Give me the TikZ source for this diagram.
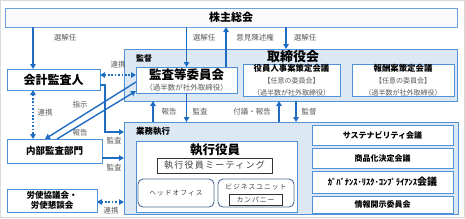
\documentclass[tikz,border=0pt]{standalone}
\usepackage{fontspec}
\setmainfont{Noto Sans CJK JP}
\newfontfamily\jpspaced[LetterSpace=14]{Noto Sans CJK JP}
\usetikzlibrary{positioning,arrows.meta,calc}
\definecolor{arrowblue}{HTML}{1F6DC2}
\definecolor{boxline}{HTML}{4F92D8}
\definecolor{framefill}{HTML}{DDE8F5}
\definecolor{lblgray}{HTML}{595959}
\definecolor{slate}{HTML}{4F6E91}
\newcommand{\fsz}[1]{\fontsize{#1}{#1}\selectfont}
\newcommand{\subtxt}[1]{{\fontsize{7}{9}\selectfont\mdseries\color{lblgray}#1}}

\begin{document}
\begin{tikzpicture}[x=1pt, y=-1pt,
    box/.style={draw=boxline, line width=0.9pt, fill=white, align=center,
                inner sep=0pt, outer sep=0pt},
    frame/.style={draw=boxline, line width=0.9pt, fill=framefill,
                  inner sep=0pt, outer sep=0pt},
    soft/.style={draw=slate, line width=0.9pt, fill=white, rounded corners=5pt,
                 inner sep=0pt, outer sep=0pt, align=center},
    plain/.style={draw=black!80, line width=0.8pt, fill=white, inner sep=0pt,
                  outer sep=0pt},
    lbl/.style={font=\fsz{7.5}, text=lblgray, inner sep=0pt},
    arr/.style={arrowblue, line width=1.4pt, -{Triangle[length=5pt,width=5.5pt]}},
    link/.style={arrowblue, line width=1.6pt, dash pattern=on 1.6pt off 1.8pt,
                 {Triangle[length=5pt,width=5.5pt]}-{Triangle[length=5pt,width=5.5pt]}},
]
\useasboundingbox (0,0) rectangle (465,218);
\draw[black!15, line width=0.8pt] (0.4,0.4) rectangle (464.6,217.6);

% Shareholders' meeting
\node[box, fill=black!2, draw=boxline!85, minimum width=452pt, minimum height=19pt,
      font=\fsz{11}\bfseries] (soukai) at (231,17.5) {株主総会};

% Left column
\node[box, minimum width=93pt, minimum height=21pt, font=\fsz{12}\bfseries]
      (kansa) at (53.5,79.5) {会計監査人};
\node[box, minimum width=95pt, minimum height=24pt, font=\fsz{9.5}\bfseries]
      (naibu) at (54.5,151) {内部監査部門};
\node[box, minimum width=90pt, minimum height=23pt, font=\fontsize{8.5}{10.5}\selectfont\bfseries]
      (roushi) at (52,200.5) {労使協議会・\\労使懇談会};

% --- Board of directors ---
\node[frame, minimum width=333pt, minimum height=52pt] (kantoku) at (290.5,75) {};
\node[font=\fsz{8}\bfseries, anchor=west, inner sep=0pt] (kantokulbl) at (136,58) {監督};
\node[font=\fsz{13}\bfseries, inner sep=0pt] (torishimari) at (293,57) {取締役会};

\node[box, minimum width=101pt, minimum height=26pt] (iinkai) at (186.5,80)
      {{\fontsize{12.5}{13}\selectfont\bfseries 監査等委員会}\\[-0.5pt]
       {\fontsize{7.5}{9}\selectfont\color{lblgray}（過半数が社外取締役）}};
\node[box, minimum width=97pt, minimum height=26pt] (jinji) at (291.5,80)
      {{\fontsize{8.4}{9}\selectfont\bfseries 役員人事案策定会議}\\
       \subtxt{【任意の委員会】}\\ \subtxt{（過半数が社外取締役）}};
\node[box, minimum width=102pt, minimum height=26pt] (houshu) at (403,80)
      {{\fontsize{8.4}{9}\selectfont\bfseries 報酬案策定会議}\\
       \subtxt{【任意の委員会】}\\ \subtxt{（過半数が社外取締役）}};

% --- Business execution ---
\node[frame, minimum width=334pt, minimum height=92pt] (gyomu) at (291,168) {};
\node[font=\fsz{8.5}\bfseries, anchor=west, inner sep=0pt] (gyomulbl) at (136,131) {業務執行};

\node[box, minimum width=161pt, minimum height=71pt] (shikko) at (216.5,176.5) {};
\node[font=\fsz{12.5}\bfseries, inner sep=0pt] (shikkolbl) at (215,150) {執行役員};
\node[plain, minimum width=115pt, minimum height=15pt, text=black!75,
      font=\jpspaced\fsz{9}] (meeting) at (214.5,165.5) {執行役員ミーティング};
\node[soft, minimum width=76pt, minimum height=28pt, text=black!75,
      font=\jpspaced\fsz{6.8}] (head) at (176,193) {ヘッドオフィス};
\node[soft, minimum width=76pt, minimum height=28pt] (unit) at (256,193) {};
\node[font=\jpspaced\fsz{6.8}, text=black!75, inner sep=0pt] (unitlbl) at (256,187) {ビジネスユニット};
\node[plain, minimum width=53pt, minimum height=11pt, text=black!75,
      font=\jpspaced\fsz{6.8}] (company) at (255.5,199.5) {カンパニー};

% Meetings on the right
\node[box, minimum width=141pt, minimum height=20pt, font=\fsz{8}\bfseries]
      (sus) at (382.5,135) {サステナビリティ会議};
\node[box, minimum width=141pt, minimum height=20pt, font=\fsz{8}\bfseries]
      (shohin) at (382.5,158) {商品化決定会議};
\node[box, minimum width=141pt, minimum height=22pt, font=\fsz{8.5}\bfseries]
      (gov) at (382.5,182) {ｶﾞﾊﾞﾅﾝｽ･ﾘｽｸ･ｺﾝﾌﾟﾗｲｱﾝｽ\fsz{10}会議};
\node[box, minimum width=141pt, minimum height=17pt, font=\fsz{8}\bfseries]
      (joho) at (382.5,204.5) {情報開示委員会};

% --- Connectors ---
\draw[arr] (soukai.south -| 33,0) -- (kansa.north -| 33,0);
\node[lbl] (sen1) at (65,38) {選解任};
\draw[arr] (soukai.south -| iinkai.north) -- (iinkai.north);
\node[lbl] (sen2) at (204,38) {選解任};
\draw[arr] (iinkai.north -| 226,0) -- (soukai.south -| 226,0);
\node[lbl] (iken) at (255,38) {意見陳述権};
\draw[arr] (soukai.south -| 286,0) -- (kantoku.north -| 286,0);
\node[lbl] (sen3) at (305,38) {選解任};

\draw[link] (kansa.east |- 0,75) -- (iinkai.west |- 0,75);
\node[lbl] (ren1) at (118,65) {連携};
\draw[arr] (kansa.east |- 0,85) -| (105,132) -- (gyomu.west |- 0,132);
\node[lbl] (kan1) at (114,141) {監査};
\draw[link] (kansa.south -| 33,0) -- (naibu.north -| 33,0);
\node[lbl] (ren2) at (45,113) {連携};

\draw[arr] (iinkai.west |- 0,82) -- (naibu.north -| 45,0);
\node[lbl] (shiji) at (80,105) {指示};
\draw[arr] (naibu.north -| 57,0) -- (iinkai.west |- 0,91);
\node[lbl] (hou1) at (80,133) {報告};

\draw[arr] (naibu.east |- 0,158) -- (gyomu.west |- 0,158);
\node[lbl] (kan2) at (114,168) {監査};
\draw[link] (roushi.east |- 0,202) -- (gyomu.west |- 0,202);
\node[lbl] (ren3) at (111,211) {連携};

\draw[arr] (gyomu.north -| 153,0) -- (kantoku.south -| 153,0);
\node[lbl] (hou2) at (169,112) {報告};
\draw[arr] (iinkai.south) -- (gyomu.north -| iinkai.south);
\node[lbl] (kan3) at (200,112) {監査};
\draw[arr] (gyomu.north -| 279,0) -- (kantoku.south -| 279,0);
\node[lbl] (fugi) at (252,112) {付議・報告};
\draw[arr] (kantoku.south -| 296,0) -- (gyomu.north -| 296,0);
\node[lbl] (kan4) at (309,112) {監督};
\end{tikzpicture}
\end{document}
